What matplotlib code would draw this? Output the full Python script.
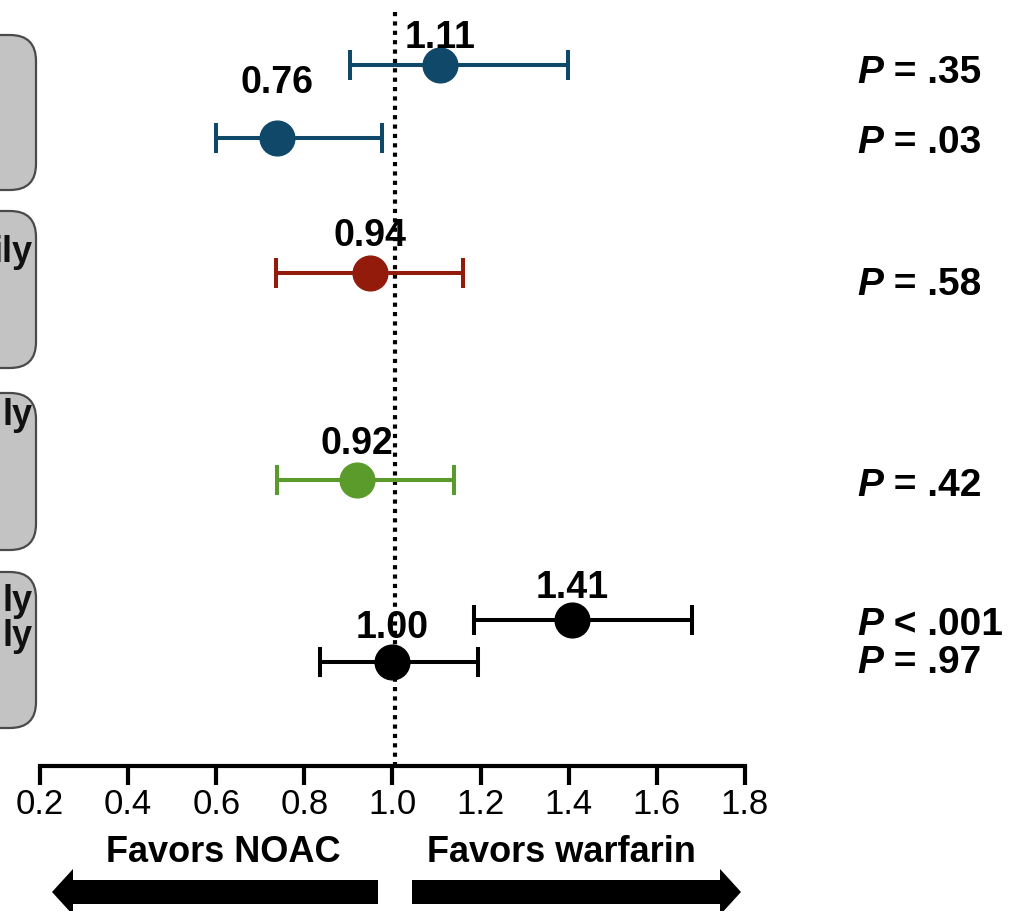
import matplotlib.pyplot as plt
from matplotlib.patches import FancyBboxPatch, Polygon

plt.rcParams["font.family"] = ["Liberation Sans", "DejaVu Sans"]

# hazard ratios with 95% CI, one entry per plotted estimate
hr_labels = ["1.11", "0.76", "0.94", "0.92", "1.41", "1.00"]
hr = [1.108, 0.738, 0.949, 0.919, 1.407, 0.999]
ci_low = [0.904, 0.599, 0.736, 0.738, 1.185, 0.836]
ci_high = [1.398, 0.976, 1.160, 1.140, 1.680, 1.194]
p_labels = [".35", ".03", ".58", ".42", "< .001", ".97"]
p_signs = ["=", "=", "=", "=", "", "="]
colors = ["#0f4868", "#0f4868", "#921b0b", "#5b9b2c", "black", "black"]

ticks = [0.2, 0.4, 0.6, 0.8, 1.0, 1.2, 1.4, 1.6, 1.8]
tick_labels = ["0.2", "0.4", "0.6", "0.8", "1.0", "1.2", "1.4", "1.6", "1.8"]

# layout (pixel rows, top = 0)
row_y = [65, 138, 273, 480, 620, 662]
label_base = [48, 93, 246, 454, 598, 638]
p_base = [83, 153, 295, 496, 635, 673]
boxes = [(35, 190), (211, 368), (393, 550), (572, 728)]
box_text = [("ily", 262), ("ly", 425), ("ly", 611), ("ly", 646)]

W, H = 1015, 911
fig = plt.figure(figsize=(W / 100, H / 100), dpi=100)
fig.set_facecolor("white")

# background layer in pixel units for boxes and arrows
bg = fig.add_axes([0, 0, 1, 1])
bg.set_xlim(0, W)
bg.set_ylim(H, 0)
bg.axis("off")

for top, bot in boxes:
    bg.add_patch(FancyBboxPatch((-60, top), 60 + 36, bot - top,
                                boxstyle="round,pad=0,rounding_size=26",
                                fc="#c3c3c3", ec="#4a4a4a", lw=1.6))
for txt, yb in box_text:
    bg.text(33, yb, txt, ha="right", va="baseline", fontsize=26,
            fontweight="bold", color="#111111")

# arrows
cy = 892
bg.add_patch(Polygon([(378, cy - 12), (73, cy - 12), (73, cy - 23), (52, cy),
                      (73, cy + 23), (73, cy + 12), (378, cy + 12)],
                     closed=True, fc="black", ec="none"))
bg.add_patch(Polygon([(412, cy - 12), (720, cy - 12), (720, cy - 23), (741, cy),
                      (720, cy + 23), (720, cy + 12), (412, cy + 12)],
                     closed=True, fc="black", ec="none"))
bg.text(223, 862, "Favors NOAC", ha="center", va="baseline", fontsize=26,
        fontweight="bold")
bg.text(561, 862, "Favors warfarin", ha="center", va="baseline", fontsize=26,
        fontweight="bold")

# main axes: x in hazard ratio, y in pixel rows
ax = fig.add_axes([0, 0, 1, 1])
ax.patch.set_alpha(0)
px = 440.6
ax.set_xlim(0.2 - 40 / px, 0.2 + (W - 40) / px)
ax.set_ylim(H, 0)

ax.plot([1.006, 1.006], [12, 766], color="black", lw=3,
        linestyle=(0, (1, 1.25)), zorder=1)

for i in range(len(hr)):
    ax.errorbar(hr[i], row_y[i],
                xerr=[[hr[i] - ci_low[i]], [ci_high[i] - hr[i]]],
                fmt="o", ms=25, color=colors[i], ecolor=colors[i],
                elinewidth=2.9, capsize=10.5, capthick=2.9, zorder=3)
    ax.text(hr[i], label_base[i], hr_labels[i], ha="center", va="baseline",
            fontsize=27, fontweight="bold", zorder=4)

    pt = ax.text(857, p_base[i], "P", transform=bg.transData, ha="left",
                 va="baseline", fontsize=28, fontweight="bold", style="italic")
    rest = (" " + p_signs[i] + " " + p_labels[i]) if p_signs[i] else " " + p_labels[i]
    ax.annotate(rest, xy=(1, 0), xycoords=pt, ha="left", va="bottom",
                fontsize=28, fontweight="bold")

for s in ["top", "right", "left"]:
    ax.spines[s].set_visible(False)
ax.spines["bottom"].set_position(("data", 766))
ax.spines["bottom"].set_bounds(0.2, 1.8)
ax.spines["bottom"].set_linewidth(3)
ax.set_yticks([])
ax.set_xticks(ticks)
ax.set_xticklabels(tick_labels)
ax.tick_params(axis="x", direction="out", length=14, width=3, pad=2,
               labelsize=25, colors="black")

plt.savefig("out.png", dpi=100, facecolor="white")
